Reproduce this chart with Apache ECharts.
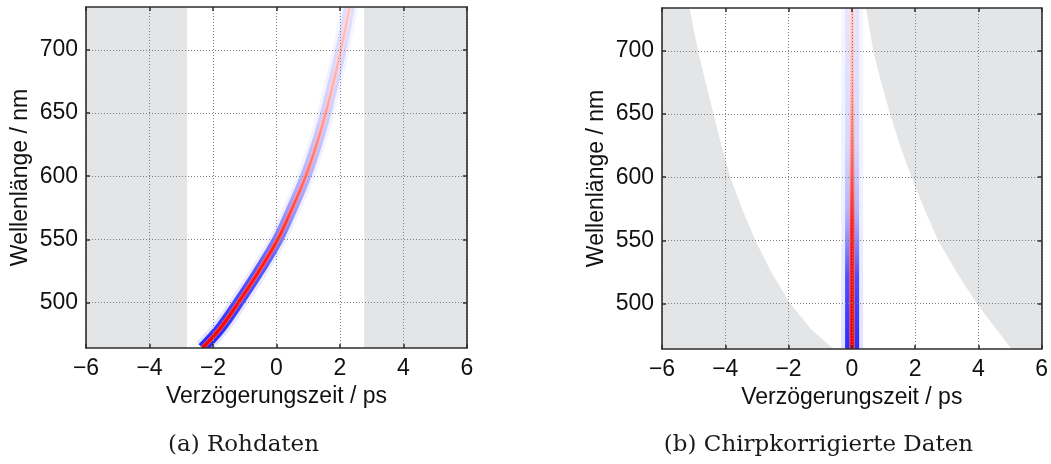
<!DOCTYPE html>
<html>
<head>
<meta charset="utf-8">
<script src="https://cdn.jsdelivr.net/npm/echarts@6/dist/echarts.min.js"></script>
<style>
  html, body { margin: 0; padding: 0; background: #ffffff; }
  #chart { width: 1051px; height: 464px; }
</style>
</head>
<body>
<div id="chart"></div>
<script>
// Wavelength sampling (nm) shared by all traced curves
const wavelengths = [464, 480, 500, 525, 550, 575, 600, 625, 650, 675, 700, 734];
// Position of the signal maximum in the raw data (ps)
const rawDelay = [-2.33, -1.76, -1.2, -0.55, 0.04, 0.5, 0.92, 1.26, 1.55, 1.8, 2.03, 2.3];
// Position of the signal maximum after chirp correction (ps)
const correctedDelay = [0.01, 0.01, 0.01, 0.01, 0.01, 0.01, 0.01, 0.01, 0.01, 0.01, 0.01, 0.01];
// Measured delay window of the raw scan (ps)
const rawWindow = [-2.82, 2.76];
// Edges of the measured window after chirp correction (ps)
const correctedLeftEdge = [-0.58, -1.3, -1.95, -2.55, -3.05, -3.47, -3.84, -4.12, -4.37, -4.62, -4.86, -5.13];
const correctedRightEdge = [5.05, 4.56, 3.95, 3.31, 2.73, 2.29, 1.89, 1.53, 1.21, 0.93, 0.68, 0.45];
// Axis ranges and tick labels
const delayRange = [-6, 6];
const delayStep = 2;
const wavelengthRange = [464, 734];
const wavelengthTicks = [500, 550, 600, 650, 700];
// Captions
const captions = ['(a) Rohdaten', '(b) Chirpkorrigierte Daten'];

const GREY = '#e4e5e7';
const FRAME = '#2e2e2e';
const SANS = '"Liberation Sans", Arial, sans-serif';
const SERIF = '"DejaVu Serif", serif';
const FONT_SIZE = 23;

const grids = [
  { left: 86, top: 7, width: 381, height: 341 },
  { left: 662, top: 8, width: 380, height: 341 }
];

const chart = echarts.init(document.getElementById('chart'), null, { renderer: 'canvas' });

const xAxes = [];
const yAxes = [];
grids.forEach((g, gi) => {
  const frameLine = { show: true, onZero: false, lineStyle: { color: FRAME, width: 1.6 } };
  const tick = { show: true, inside: true, length: 4, lineStyle: { color: FRAME, width: 1.5 } };
  const dotted = { show: true, lineStyle: { color: '#808080', width: 1, type: [1, 2] } };
  xAxes.push({
    type: 'value', gridIndex: gi, position: 'bottom', z: 10,
    min: delayRange[0], max: delayRange[1], interval: delayStep,
    axisLine: frameLine, axisTick: tick, splitLine: dotted,
    axisLabel: {
      margin: 9, fontSize: FONT_SIZE, color: '#111', fontFamily: SANS,
      formatter: v => String(v).replace('-', '\u2212')
    },
    name: 'Verzögerungszeit / ps', nameLocation: 'middle', nameGap: 34,
    nameTextStyle: { fontSize: FONT_SIZE, color: '#111', fontFamily: SANS }
  });
  xAxes.push({
    type: 'value', gridIndex: gi, position: 'top', z: 10,
    min: delayRange[0], max: delayRange[1], interval: delayStep,
    axisLine: frameLine, axisTick: tick, splitLine: { show: false },
    axisLabel: { show: false }
  });
  yAxes.push({
    type: 'value', gridIndex: gi, position: 'left', z: 10,
    min: wavelengthRange[0], max: wavelengthRange[1],
    axisLine: frameLine,
    axisTick: Object.assign({ customValues: wavelengthTicks }, tick),
    splitLine: dotted,
    axisLabel: { customValues: wavelengthTicks, margin: 8, fontSize: FONT_SIZE, color: '#111', fontFamily: SANS },
    name: 'Wellenlänge / nm', nameLocation: 'middle', nameGap: 54, nameRotate: 90,
    nameTextStyle: { fontSize: FONT_SIZE, color: '#111', fontFamily: SANS }
  });
  yAxes.push({
    type: 'value', gridIndex: gi, position: 'right', z: 10,
    min: wavelengthRange[0], max: wavelengthRange[1],
    axisLine: frameLine,
    axisTick: Object.assign({ customValues: wavelengthTicks }, tick),
    splitLine: { show: false },
    axisLabel: { show: false, customValues: wavelengthTicks }
  });
});

// Grey areas outside the measured delay window
function windowSeries(gi, polygons) {
  return {
    type: 'custom', xAxisIndex: gi * 2, yAxisIndex: gi * 2, silent: true, z: 1, clip: true,
    data: [0],
    renderItem: (params, api) => ({
      type: 'group',
      children: polygons.map(poly => ({
        type: 'polygon',
        shape: { points: poly.map(p => api.coord(p)) },
        style: { fill: GREY }
      }))
    })
  };
}

const [wMin, wMax] = wavelengthRange;
const [dMin, dMax] = delayRange;
const rawPolygons = [
  [[dMin, wMin], [rawWindow[0], wMin], [rawWindow[0], wMax], [dMin, wMax]],
  [[rawWindow[1], wMin], [dMax, wMin], [dMax, wMax], [rawWindow[1], wMax]]
];
const correctedPolygons = [
  [[dMin, wMin]].concat(wavelengths.map((w, i) => [correctedLeftEdge[i], w])).concat([[dMin, wMax]]),
  [[dMax, wMin]].concat(wavelengths.map((w, i) => [correctedRightEdge[i], w])).concat([[dMax, wMax]])
];

function grad(stops) {
  return new echarts.graphic.LinearGradient(0, 1, 0, 0, stops.map(s => ({ offset: s[0], color: s[1] })));
}

// Signal trace: blue flanks around a red centre, fading towards long wavelengths
function bandSeries(gi, delays, layers) {
  return {
    type: 'custom', xAxisIndex: gi * 2, yAxisIndex: gi * 2, silent: true, z: 3, clip: true,
    data: [0],
    renderItem: (params, api) => {
      const pts = wavelengths.map((w, i) => api.coord([delays[i], w]));
      return {
        type: 'group',
        children: layers.map(l => ({
          type: 'polyline',
          shape: { points: pts, smooth: 0.35 },
          style: { stroke: l.color, lineWidth: l.width, fill: null, lineCap: 'butt', lineJoin: 'round' }
        }))
      };
    }
  };
}

const rawLayers = [
  { width: 17, color: grad([[0, 'rgba(120,120,255,0.22)'], [0.5, 'rgba(140,140,255,0.12)'], [1, 'rgba(160,160,255,0.10)']]) },
  { width: 11, color: grad([[0, 'rgba(25,25,255,0.95)'], [0.25, 'rgba(55,55,255,0.8)'], [0.45, 'rgba(95,95,255,0.5)'], [0.7, 'rgba(130,130,255,0.3)'], [1, 'rgba(150,150,255,0.22)']]) },
  { width: 4.5, color: '#ffffff' },
  { width: 4.5, color: grad([[0, 'rgba(245,0,0,0.9)'], [0.3, 'rgba(255,30,30,0.8)'], [0.5, 'rgba(255,70,70,0.55)'], [0.75, 'rgba(255,110,110,0.35)'], [1, 'rgba(255,130,130,0.28)']]) },
  { width: 2, color: grad([[0, 'rgba(235,0,0,1)'], [0.3, 'rgba(255,20,20,0.9)'], [0.5, 'rgba(255,70,70,0.6)'], [0.75, 'rgba(255,110,110,0.38)'], [1, 'rgba(255,130,130,0.3)']]) }
];
const correctedLayers = [
  { width: 22, color: grad([[0, 'rgba(120,120,255,0.22)'], [0.5, 'rgba(140,140,255,0.12)'], [1, 'rgba(160,160,255,0.10)']]) },
  { width: 14, color: grad([[0, 'rgba(30,30,255,0.95)'], [0.22, 'rgba(50,50,255,0.85)'], [0.4, 'rgba(100,100,255,0.45)'], [0.6, 'rgba(140,140,255,0.25)'], [1, 'rgba(160,160,255,0.18)']]) },
  { width: 5, color: '#ffffff' },
  { width: 5, color: grad([[0, 'rgba(245,0,0,0.9)'], [0.35, 'rgba(255,30,30,0.85)'], [0.55, 'rgba(255,70,70,0.55)'], [0.8, 'rgba(255,120,120,0.33)'], [1, 'rgba(255,140,140,0.28)']]) },
  { width: 2.5, color: grad([[0, 'rgba(235,0,0,1)'], [0.35, 'rgba(255,20,20,0.95)'], [0.55, 'rgba(255,70,70,0.6)'], [0.8, 'rgba(255,120,120,0.35)'], [1, 'rgba(255,140,140,0.3)']]) }
];

const series = [
  windowSeries(0, rawPolygons),
  windowSeries(1, correctedPolygons),
  bandSeries(0, rawDelay, rawLayers),
  bandSeries(1, correctedDelay, correctedLayers)
];

const captionX = [243.5, 818.5];

chart.setOption({
  animation: false,
  backgroundColor: '#ffffff',
  grid: grids.map(g => Object.assign({ containLabel: false }, g)),
  xAxis: xAxes,
  yAxis: yAxes,
  series: series,
  graphic: captions.map((t, i) => ({
    type: 'text', x: captionX[i], y: 445,
    style: { text: t, fontFamily: SERIF, fontSize: 23, fill: '#1a1a1a', align: 'center', verticalAlign: 'middle' }
  }))
});
</script>
</body>
</html>
